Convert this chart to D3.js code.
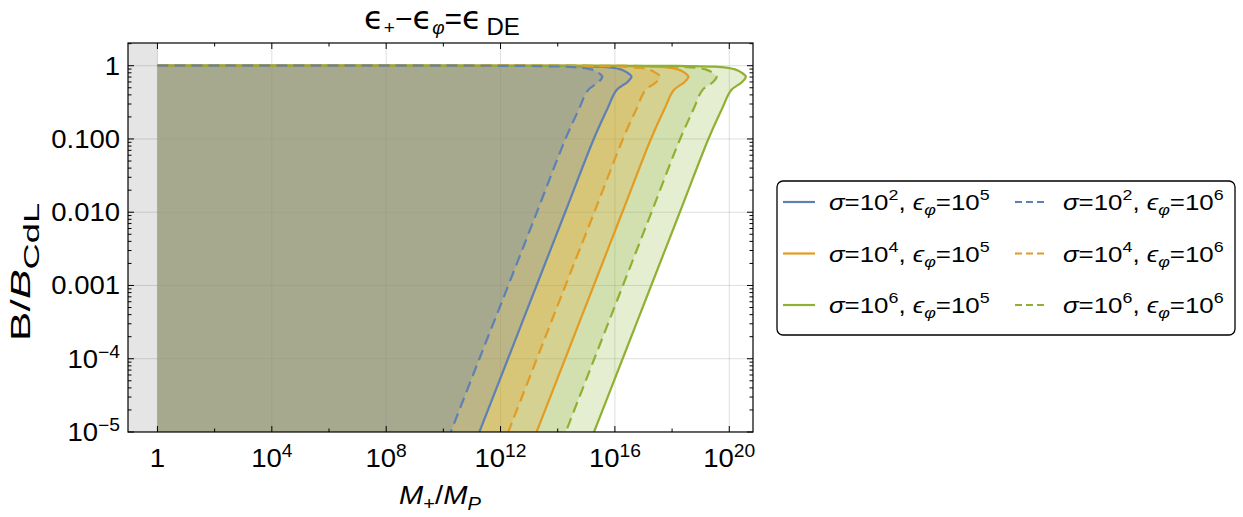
<!DOCTYPE html>
<html>
<head>
<meta charset="utf-8">
<script src="https://cdn.jsdelivr.net/npm/d3@7"></script>
<style>
  html, body { margin: 0; padding: 0; background: #fff; }
  svg { display: block; }
  text { font-family: "Liberation Sans", Arial, sans-serif; fill: #000; }
</style>
</head>
<body>
<svg id="chart" width="1243" height="517"></svg>
<script>
// ---- data: [log10(M+/MP), B/BCdL] ----
const blueSolid = [[0,1],[13,0.998],[14.5,0.99],[15.5,0.97],[15.9,0.94],[16.2,0.89],[16.42,0.81],[16.58,0.71],[16.44,0.6],[16.06,0.465],[15.72,0.25],[15.26,0.1],[14.26,0.01],[13.26,0.001],[12.26,1e-4],[11.26,1e-5]];
const blueDashed = [[0,1],[12,0.997],[13.5,0.985],[14.4,0.965],[14.85,0.935],[15.17,0.89],[15.4,0.81],[15.56,0.71],[15.43,0.6],[15.06,0.465],[14.73,0.25],[14.27,0.1],[13.27,0.01],[12.27,0.001],[11.26,1e-4],[10.26,1e-5]];
const orangeSolid = [[0,1],[15,0.998],[16.5,0.99],[17.5,0.97],[17.9,0.94],[18.2,0.89],[18.42,0.81],[18.57,0.71],[18.44,0.6],[18.06,0.465],[17.72,0.25],[17.26,0.1],[16.26,0.01],[15.26,0.001],[14.26,1e-4],[13.26,1e-5]];
const orangeDashed = [[0,1],[14,0.997],[15.5,0.985],[16.4,0.965],[16.85,0.935],[17.17,0.89],[17.4,0.81],[17.58,0.71],[17.45,0.6],[17.07,0.465],[16.74,0.25],[16.28,0.1],[15.28,0.01],[14.27,0.001],[13.27,1e-4],[12.27,1e-5]];
const greenSolid = [[0,1],[17,0.998],[18.5,0.99],[19.5,0.97],[19.9,0.94],[20.2,0.89],[20.42,0.81],[20.58,0.71],[20.45,0.6],[20.07,0.465],[19.73,0.25],[19.27,0.1],[18.27,0.01],[17.27,0.001],[16.27,1e-4],[15.27,1e-5]];
const greenDashed = [[0,1],[16,0.997],[17.5,0.985],[18.4,0.965],[18.85,0.935],[19.17,0.89],[19.4,0.81],[19.56,0.71],[19.43,0.6],[19.06,0.465],[18.74,0.25],[18.28,0.1],[17.28,0.01],[16.28,0.001],[15.28,1e-4],[14.28,1e-5]];

const seriesColors = ["#5E81B5", "#E19C24", "#8FB032"];
const sigmaExps = ["2", "4", "6"];
const epsExps = ["5", "6"];
const xMajorExps = [0, 4, 8, 12, 16, 20];
const xMinorExps = [2, 6, 10, 14, 18];
const xTickLabels = [["1",""],["10","4"],["10","8"],["10","12"],["10","16"],["10","20"]];
const yMajorExps = [0, -1, -2, -3, -4, -5];
const yTickLabels = [["1",""],["0.100",""],["0.010",""],["0.001",""],["10","\u22124"],["10","\u22125"]];
const xDomainExp = [-1.03, 20.83];
const yDomainExp = [-5, 0.31];

// ---- layout ----
const L = 128, R = 753, T = 43, B = 432;
const svg = d3.select("#chart");
const x = d3.scaleLog().domain(xDomainExp.map(e => Math.pow(10, e))).range([L, R]);
const y = d3.scaleLog().domain(yDomainExp.map(e => Math.pow(10, e))).range([B, T]);

svg.append("defs").append("clipPath").attr("id", "clip")
  .append("rect").attr("x", L).attr("y", T).attr("width", R - L).attr("height", B - T);

const plot = svg.append("g").attr("clip-path", "url(#clip)");

// gray region for M < MP
plot.append("rect").attr("x", L).attr("y", T).attr("width", x(1) - L).attr("height", B - T).attr("fill", "#E5E5E5");

// gridlines
const grid = plot.append("g").attr("stroke", "rgba(0,0,0,0.13)").attr("stroke-width", 1);
xMajorExps.forEach(e => grid.append("line").attr("x1", x(Math.pow(10, e))).attr("x2", x(Math.pow(10, e))).attr("y1", T).attr("y2", B));
yMajorExps.forEach(e => grid.append("line").attr("y1", y(Math.pow(10, e))).attr("y2", y(Math.pow(10, e))).attr("x1", L).attr("x2", R));

const curves = [
  {d: blueSolid, c: 0, dash: false},
  {d: orangeSolid, c: 1, dash: false},
  {d: greenSolid, c: 2, dash: false},
  {d: blueDashed, c: 0, dash: true},
  {d: orangeDashed, c: 1, dash: true},
  {d: greenDashed, c: 2, dash: true}
];

const line = d3.line()
  .x(p => x(Math.pow(10, p[0])))
  .y(p => y(p[1]))
  .curve(d3.curveCatmullRom.alpha(0.5));

// fills: green first, blue on top
const fillOrder = [2, 5, 1, 4, 0, 3];
fillOrder.forEach(i => {
  const cv = curves[i];
  const pts = cv.d;
  const last = pts[pts.length - 1];
  const p = line(pts) + `L${x(1)},${y(last[1])}Z`;
  plot.append("path").attr("d", p).attr("fill", seriesColors[cv.c]).attr("fill-opacity", 0.22).attr("stroke", "none");
});

// lines
const lineOrder = [0, 1, 2, 5, 4, 3];
lineOrder.forEach(i => {
  const cv = curves[i];
  plot.append("path").attr("d", line(cv.d)).attr("fill", "none")
    .attr("stroke", seriesColors[cv.c]).attr("stroke-width", 2.2)
    .attr("stroke-dasharray", cv.dash ? "11,6" : null);
});

// frame
svg.append("rect").attr("x", L).attr("y", T).attr("width", R - L).attr("height", B - T)
  .attr("fill", "none").attr("stroke", "#000").attr("stroke-width", 1.2);

// ticks
const ticks = svg.append("g").attr("stroke", "#000").attr("stroke-width", 1);
xMajorExps.forEach(e => {
  const xx = x(Math.pow(10, e));
  ticks.append("line").attr("x1", xx).attr("x2", xx).attr("y1", B).attr("y2", B - 6);
  ticks.append("line").attr("x1", xx).attr("x2", xx).attr("y1", T).attr("y2", T + 6);
});
xMinorExps.forEach(e => {
  const xx = x(Math.pow(10, e));
  ticks.append("line").attr("x1", xx).attr("x2", xx).attr("y1", B).attr("y2", B - 3.5);
  ticks.append("line").attr("x1", xx).attr("x2", xx).attr("y1", T).attr("y2", T + 3.5);
});
const yLo = Math.pow(10, yDomainExp[0]), yHi = Math.pow(10, yDomainExp[1]);
for (let e = -5; e <= 0; e++) {
  for (let k = 1; k <= 9; k++) {
    const v = k * Math.pow(10, e);
    if (v < yLo * 0.999 || v > yHi) continue;
    const yy = y(v);
    const len = k === 1 ? 6 : 3.5;
    ticks.append("line").attr("x1", L).attr("x2", L + len).attr("y1", yy).attr("y2", yy);
    ticks.append("line").attr("x1", R).attr("x2", R - len).attr("y1", yy).attr("y2", yy);
  }
}

// helper for (slightly stretched) text
function stext(px, py, anchor, size, sx, sy, rot) {
  const g = svg.append("g").attr("transform",
    `translate(${px},${py})` + (rot ? ` rotate(${rot})` : "") + ` scale(${sx},${sy})`);
  return g.append("text").attr("text-anchor", anchor).style("font-size", size + "px");
}

// x tick labels
xMajorExps.forEach((e, i) => {
  const t = stext(x(Math.pow(10, e)), 467, "middle", 25, 1.1, 1);
  t.append("tspan").text(xTickLabels[i][0]);
  if (xTickLabels[i][1]) t.append("tspan").attr("dy", -10).style("font-size", "17.5px").text(xTickLabels[i][1]);
});
// y tick labels
yMajorExps.forEach((e, i) => {
  const t = stext(120, y(Math.pow(10, e)) + 9, "end", 25, 1.1, 1);
  t.append("tspan").text(yTickLabels[i][0]);
  if (yTickLabels[i][1]) t.append("tspan").attr("dy", -10).style("font-size", "17.5px").text(yTickLabels[i][1]);
});

// title
{
  const t = stext(442, 29, "middle", 30, 1.0, 1);
  t.append("tspan").style("font-family", "DejaVu Sans").style("font-size", "32px").text("\u03F5");
  t.append("tspan").attr("dy", 5).style("font-size", "19px").text("+");
  t.append("tspan").attr("dy", -5).text("\u2212");
  t.append("tspan").style("font-family", "DejaVu Sans").style("font-size", "32px").text("\u03F5");
  t.append("tspan").attr("dy", 5).style("font-size", "19px").attr("font-style", "italic").text("\u03C6");
  t.append("tspan").attr("dy", -5).text("=");
  t.append("tspan").style("font-family", "DejaVu Sans").style("font-size", "32px").text("\u03F5");
  t.append("tspan").attr("dy", 6).style("font-size", "24px").text("\u2009DE");
}

// x axis label
{
  const t = stext(440, 504, "middle", 26, 1.12, 1);
  t.append("tspan").attr("font-style", "italic").text("M");
  t.append("tspan").attr("dy", 6).style("font-size", "18px").text("+");
  t.append("tspan").attr("dy", -6).text("/");
  t.append("tspan").attr("font-style", "italic").text("M");
  t.append("tspan").attr("dy", 6).style("font-size", "18px").attr("font-style", "italic").text("P");
}

// y axis label (rotated)
{
  const t = stext(30, 272, "middle", 27, 1.65, 1.0, -90);
  t.append("tspan").text("B/");
  t.append("tspan").attr("font-style", "italic").text("B");
  t.append("tspan").attr("dy", 9).style("font-size", "22px").text("CdL");
}

// legend
const legend = svg.append("g");
legend.append("rect").attr("x", 777).attr("y", 181).attr("width", 458).attr("height", 154)
  .attr("rx", 6).attr("fill", "#fff").attr("stroke", "#000").attr("stroke-width", 1.3);
const rowY = [202, 253.5, 305];
const colLineX = [[783, 815], [1015, 1047]];
const colTextX = [829, 1063];
sigmaExps.forEach((s, r) => {
  epsExps.forEach((e, c) => {
    legend.append("line").attr("x1", colLineX[c][0]).attr("x2", colLineX[c][1])
      .attr("y1", rowY[r]).attr("y2", rowY[r])
      .attr("stroke", seriesColors[r]).attr("stroke-width", 2.2)
      .attr("stroke-dasharray", c === 1 ? "7,4" : null);
    const g = legend.append("g").attr("transform", `translate(${colTextX[c]},${rowY[r] + 8}) scale(1.15,1)`);
    const t = g.append("text").style("font-size", "22.5px");
    t.append("tspan").attr("font-style", "italic").text("\u03C3");
    t.append("tspan").text("=10");
    t.append("tspan").attr("dy", -10).style("font-size", "15.5px").text(s);
    t.append("tspan").attr("dy", 10).text(", ");
    t.append("tspan").attr("font-style", "italic").text("\u03F5");
    t.append("tspan").attr("dy", 5).style("font-size", "15.5px").attr("font-style", "italic").text("\u03C6");
    t.append("tspan").attr("dy", -5).text("=10");
    t.append("tspan").attr("dy", -10).style("font-size", "15.5px").text(e);
  });
});
</script>
</body>
</html>
